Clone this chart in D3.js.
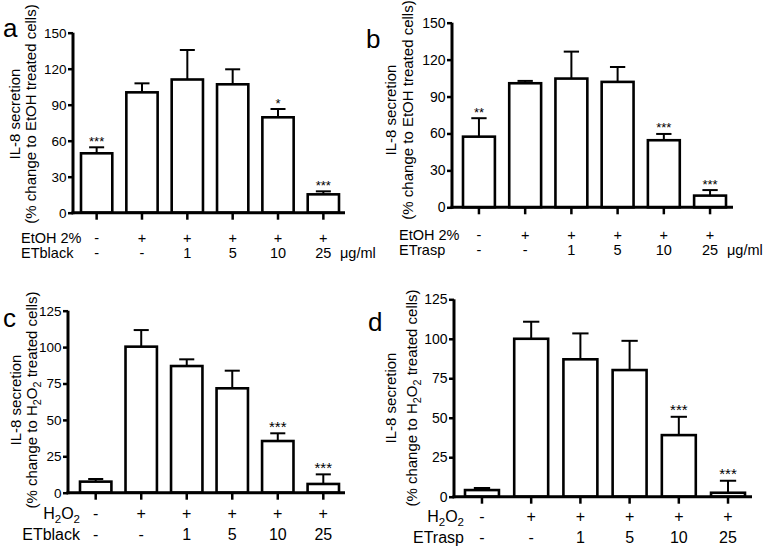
<!DOCTYPE html>
<html><head><meta charset="utf-8">
<script src="https://cdn.jsdelivr.net/npm/d3@7"></script>
<style>body{margin:0;background:#fff}svg{display:block;font-family:"Liberation Sans",Arial,sans-serif}</style>
</head><body><svg id="chart" width="768" height="550"></svg>
<script>
// ---- data ----
const treatA = ["-", "+", "+", "+", "+", "+"];          // EtOH 2% / H2O2 row
const doseA = ["-", "-", "1", "5", "10", "25"];         // extract dose row
const valuesA = [49.5, 100.3, 111, 107, 79.5, 15.3];
const errorsA = [5, 7.5, 24.6, 12.5, 6.9, 2.5];
const starsA = ["***", "", "", "", "*", "***"];

const valuesB = [57.4, 100.8, 104.6, 101.9, 54.5, 9.5];
const errorsB = [15, 1.9, 21.9, 12.1, 5.1, 4.5];
const starsB = ["**", "", "", "", "***", "***"];

const valuesC = [7.6, 100.3, 87, 71.7, 35.5, 6];
const errorsC = [1.8, 11.4, 4.6, 12.1, 5.3, 6.6];
const starsC = ["", "", "", "", "***", "***"];

const valuesD = [4.2, 100, 87, 80.2, 39, 2.5];
const errorsD = [1.3, 10.8, 16.4, 18.5, 11.6, 7.6];
const starsD = ["", "", "", "", "***", "***"];

const ticksEtOH = [0, 30, 60, 90, 120, 150];
const ticksH2O2 = [0, 25, 50, 75, 100, 125];
const groups = ["g1", "g2", "g3", "g4", "g5", "g6"];

// ---- layout per panel ----
const panels = [
  {letter: "a", lx: 3, ly: 37, axisX: 73, axisEnd: 345, y0: 212.7, yTop: 32.7, ticks: ticksEtOH,
   barRange: [81, 339], tickFont: 13.5, starFont: 13, yl1: 20, yl2: 36, ylY: 114, h2o2: false,
   rowX: 21, anchor: "start", r1Y: 243, r2Y: 258, rowFont: 14.5, r1: "EtOH 2%", r2: "ETblack", unitX: 340,
   values: valuesA, errors: errorsA, stars: starsA},
  {letter: "b", lx: 366, ly: 48, axisX: 452, axisEnd: 733, y0: 207.3, yTop: 22.7, ticks: ticksEtOH,
   barRange: [463, 726], tickFont: 14, starFont: 13, yl1: 396, yl2: 413, ylY: 110, h2o2: false,
   rowX: 399, anchor: "start", r1Y: 240, r2Y: 254.5, rowFont: 14.5, r1: "EtOH 2%", r2: "ETrasp", unitX: 727,
   values: valuesB, errors: errorsB, stars: starsB},
  {letter: "c", lx: 3, ly: 327, axisX: 68, axisEnd: 345, y0: 492.7, yTop: 310.7, ticks: ticksH2O2,
   barRange: [80, 339], tickFont: 13.5, starFont: 15, yl1: 21, yl2: 37, ylY: 400, h2o2: true,
   rowX: 80, anchor: "end", r1Y: 519, r2Y: 540, rowFont: 16, r1: null, r2: "ETblack", unitX: null,
   values: valuesC, errors: errorsC, stars: starsC},
  {letter: "d", lx: 368, ly: 331, axisX: 454, axisEnd: 752, y0: 496.7, yTop: 299.3, ticks: ticksH2O2,
   barRange: [465, 745], tickFont: 14, starFont: 15, yl1: 396, yl2: 417, ylY: 398, h2o2: true,
   rowX: 464, anchor: "end", r1Y: 522, r2Y: 543, rowFont: 16, r1: null, r2: "ETrasp", unitX: null,
   values: valuesD, errors: errorsD, stars: starsD}
];

const svg = d3.select("#chart");

function h2o2Text(sel, fs) {
  sel.append("tspan").text("H");
  sel.append("tspan").attr("dy", fs * 0.25).attr("font-size", fs * 0.72).text("2");
  sel.append("tspan").attr("dy", -fs * 0.25).text("O");
  sel.append("tspan").attr("dy", fs * 0.25).attr("font-size", fs * 0.72).text("2");
  return sel;
}

panels.forEach(p => {
  const g = svg.append("g");
  const x = d3.scaleBand().domain(groups).range(p.barRange).paddingInner(0.31).paddingOuter(0);
  const y = d3.scaleLinear().domain([0, d3.max(p.ticks)]).range([p.y0, p.yTop]);
  const data = groups.map((k, i) => ({k, v: p.values[i], e: p.errors[i], s: p.stars[i], t: treatA[i], d: doseA[i]}));

  // panel letter
  g.append("text").attr("x", p.lx).attr("y", p.ly).attr("font-size", 26).text(p.letter);

  // bars
  g.selectAll("rect.bar").data(data).join("rect").attr("class", "bar")
    .attr("x", d => x(d.k)).attr("width", x.bandwidth())
    .attr("y", d => y(d.v)).attr("height", d => y(0) - y(d.v))
    .attr("fill", "#fff").attr("stroke", "#000").attr("stroke-width", 2.6);

  // error bars
  const cap = x.bandwidth() * 0.48;
  g.selectAll("line.err").data(data).join("line").attr("class", "err")
    .attr("x1", d => x(d.k) + x.bandwidth() / 2).attr("x2", d => x(d.k) + x.bandwidth() / 2)
    .attr("y1", d => y(d.v)).attr("y2", d => y(d.v + d.e))
    .attr("stroke", "#000").attr("stroke-width", 2);
  g.selectAll("line.cap").data(data).join("line").attr("class", "cap")
    .attr("x1", d => x(d.k) + x.bandwidth() / 2 - cap / 2).attr("x2", d => x(d.k) + x.bandwidth() / 2 + cap / 2)
    .attr("y1", d => y(d.v + d.e)).attr("y2", d => y(d.v + d.e))
    .attr("stroke", "#000").attr("stroke-width", 2);

  // stars
  g.selectAll("text.star").data(data.filter(d => d.s)).join("text").attr("class", "star")
    .attr("x", d => x(d.k) + x.bandwidth() / 2).attr("y", d => y(d.v + d.e) - 1.5)
    .attr("text-anchor", "middle").attr("font-size", p.starFont).text(d => d.s);

  // y axis
  const ya = g.append("g").attr("transform", `translate(${p.axisX},0)`)
    .call(d3.axisLeft(y).tickValues(p.ticks).tickSize(5).tickSizeOuter(0).tickPadding(1.5));
  ya.select(".domain").attr("stroke-width", 3).attr("d", `M0,${p.y0 + 1.5}V${p.yTop}`);
  ya.selectAll(".tick line").attr("stroke-width", 2.5);
  ya.selectAll(".tick text").attr("font-size", p.tickFont).attr("font-family", "Liberation Sans, Arial, sans-serif").attr("fill", "#000");

  // x axis
  const xa = g.append("g").attr("transform", `translate(0,${p.y0})`)
    .call(d3.axisBottom(x).tickSize(7).tickSizeOuter(0).tickFormat(""));
  xa.select(".domain").attr("stroke-width", 3).attr("d", `M${p.axisX - 1.5},0H${p.axisEnd}`);
  xa.selectAll(".tick line").attr("stroke-width", 2.5);

  // row labels
  const r1 = g.append("text").attr("x", p.rowX).attr("y", p.r1Y).attr("font-size", p.rowFont).attr("text-anchor", p.anchor);
  if (p.h2o2) h2o2Text(r1, p.rowFont); else r1.text(p.r1);
  g.append("text").attr("x", p.rowX).attr("y", p.r2Y).attr("font-size", p.rowFont).attr("text-anchor", p.anchor).text(p.r2);
  g.selectAll("text.t").data(data).join("text").attr("class", "t")
    .attr("x", d => x(d.k) + x.bandwidth() / 2).attr("y", p.r1Y).attr("text-anchor", "middle")
    .attr("font-size", p.rowFont).text(d => d.t);
  g.selectAll("text.dz").data(data).join("text").attr("class", "dz")
    .attr("x", d => x(d.k) + x.bandwidth() / 2).attr("y", p.r2Y).attr("text-anchor", "middle")
    .attr("font-size", p.rowFont).text(d => d.d);
  if (p.unitX) g.append("text").attr("x", p.unitX).attr("y", p.r2Y).attr("font-size", p.rowFont).text("\u03bcg/ml");

  // y labels
  g.append("text").attr("transform", `translate(${p.yl1},${p.ylY}) rotate(-90)`).attr("text-anchor", "middle")
    .attr("font-size", 15).text("IL-8 secretion");
  const l2 = g.append("text").attr("transform", `translate(${p.yl2},${p.ylY}) rotate(-90)`).attr("text-anchor", "middle")
    .attr("font-size", 15);
  if (p.h2o2) {
    l2.append("tspan").text("(% change to ");
    h2o2Text(l2, 15);
    l2.append("tspan").attr("dy", -15 * 0.25).text(" treated cells)");
  } else {
    l2.text("(% change to EtOH treated cells)");
  }
});
</script></body></html>
